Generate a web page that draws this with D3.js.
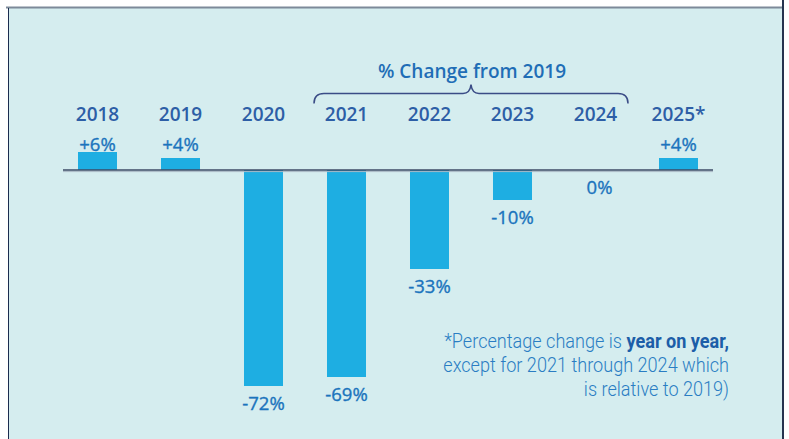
<!DOCTYPE html>
<html>
<head>
<meta charset="utf-8">
<script src="https://cdn.jsdelivr.net/npm/d3@7"></script>
<style>
  html, body { margin: 0; padding: 0; background: #fff; }
  svg { display: block; }
</style>
</head>
<body>
<div id="chart"></div>
<script>
// data
const years  = ["2018", "2019", "2020", "2021", "2022", "2023", "2024", "2025*"];
const values = [6, 4, -72, -69, -33, -10, 0, 4];
const valueLabels = ["+6%", "+4%", "-72%", "-69%", "-33%", "-10%", "0%", "+4%"];
const braceYears = ["2021", "2024"];
const braceTitle = "% Change from 2019";
const noteLines = [
  [{ t: "*Percentage change is " }, { t: "year on year,", bold: true }],
  [{ t: "except for 2021 through 2024 which" }],
  [{ t: "is relative to 2019)" }]
];

const W = 789, H = 439;
const svg = d3.select("#chart").append("svg").attr("width", W).attr("height", H);

// panel
svg.append("rect").attr("x", 8).attr("y", 8).attr("width", 775).attr("height", H)
  .attr("fill", "#d5edef");
svg.append("line").attr("x1", 6).attr("x2", 783).attr("y1", 7.5).attr("y2", 7.5)
  .attr("stroke", "#7d8a99").attr("stroke-width", 2);
svg.append("line").attr("x1", 8.5).attr("x2", 8.5).attr("y1", 8).attr("y2", H)
  .attr("stroke", "#1b2c4f").attr("stroke-width", 1);
svg.append("line").attr("x1", 783).attr("x2", 783).attr("y1", 0).attr("y2", H)
  .attr("stroke", "#25344f").attr("stroke-width", 2);

// scales
const x = d3.scaleBand().domain(years).range([56, 720]).paddingInner(0.53).paddingOuter(0.265);
const y = d3.scaleLinear().domain([-72, 6]).range([386, 152]);
const cx = d => x(d) + x.bandwidth() / 2;

const FONT = "'Open Sans', 'Noto Sans', sans-serif";

// bars
svg.append("g").selectAll("rect")
  .data(years.map((yr, i) => ({ yr, v: values[i] })).filter(d => d.v !== 0))
  .join("rect")
  .attr("x", d => x(d.yr))
  .attr("width", x.bandwidth())
  .attr("y", d => y(Math.max(0, d.v)))
  .attr("height", d => Math.abs(y(d.v) - y(0)))
  .attr("fill", "#1eaee2");

// baseline
svg.append("line").attr("x1", 63).attr("x2", 713).attr("y1", y(0) + 1.6).attr("y2", y(0) + 1.6)
  .attr("stroke", "#a9b8c4").attr("stroke-width", 1);
svg.append("line").attr("x1", 63).attr("x2", 713).attr("y1", y(0)).attr("y2", y(0))
  .attr("stroke", "#3c4a66").attr("stroke-width", 1.6);

// year labels
svg.append("g").selectAll("text")
  .data(years).join("text")
  .attr("x", d => cx(d)).attr("y", 121)
  .attr("text-anchor", "middle")
  .style("font-family", FONT).style("font-size", "19px").style("font-weight", 600)
  .attr("fill", "#2d5ea6")
  .text(d => d);

// value labels
svg.append("g").selectAll("text")
  .data(years.map((yr, i) => ({ yr, v: values[i], l: valueLabels[i] })))
  .join("text")
  .attr("x", d => cx(d.yr) + (d.v === 0 ? 4 : 0))
  .attr("y", d => d.v > 0 ? 150.5 : y(d.v) + 24)
  .attr("text-anchor", "middle")
  .style("font-family", FONT).style("font-size", "18.5px").style("font-weight", 400)
  .attr("fill", "#1b74bd")
  .attr("stroke", "#1b74bd").attr("stroke-width", 0.35)
  .text(d => d.l);

// brace over 2021-2024
const bx0 = x(braceYears[0]) - 13;
const bx1 = x(braceYears[1]) + x.bandwidth() + 13;
const bm = (bx0 + bx1) / 2;
const by = 93.5;
svg.append("path")
  .attr("d", `M${bx0},${by + 10} Q${bx0},${by} ${bx0 + 10},${by} L${bm - 8},${by} Q${bm - 1},${by} ${bm},${by - 9}` +
             ` Q${bm + 1},${by} ${bm + 8},${by} L${bx1 - 10},${by} Q${bx1},${by} ${bx1},${by + 10}`)
  .attr("fill", "none").attr("stroke", "#3a4c86").attr("stroke-width", 1.5);
svg.append("text").attr("x", bm + 1).attr("y", 77.5)
  .attr("text-anchor", "middle")
  .style("font-family", FONT).style("font-size", "19px").style("font-weight", 600)
  .attr("fill", "#1f6db6")
  .text(braceTitle);

// footnote (condensed look: squeeze horizontally to the reference width)
const note = svg.append("g");
const noteTexts = noteLines.map((parts, i) => {
  const t = note.append("text").attr("x", 0).attr("y", 348 + i * 24)
    .attr("text-anchor", "end")
    .style("font-family", "Roboto, sans-serif")
    .style("font-size", "19.5px")
    .attr("fill", "#2a7dc3");
  parts.forEach(p => t.append("tspan")
    .style("font-weight", p.bold ? 700 : 300)
    .attr("fill", p.bold ? "#1c5ea8" : null)
    .text(p.t));
  return t;
});
const k = 286 / noteTexts[1].node().getComputedTextLength();
note.attr("transform", `translate(729,0) scale(${k},1)`);
</script>
</body>
</html>
